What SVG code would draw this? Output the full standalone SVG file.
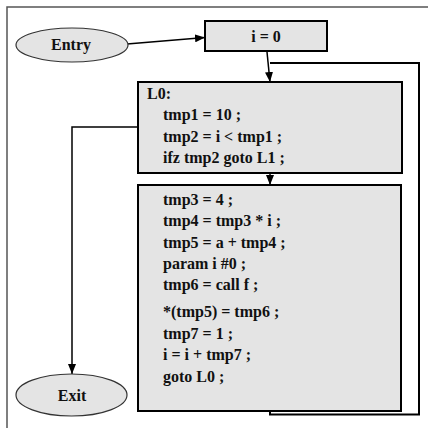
<svg xmlns="http://www.w3.org/2000/svg" width="428" height="428" viewBox="0 0 428 428">
<style>
text{font-family:'Liberation Serif','Times New Roman',serif;font-weight:bold;font-size:16px;fill:#111}
.box{fill:#e4e4e4;stroke:#000;stroke-width:2}
.ell{fill:#e4e4e4;stroke:#333;stroke-width:1.2}
.edge{fill:none;stroke:#000;stroke-width:1.5}
.loop{fill:none;stroke:#000;stroke-width:2}
.mid{text-anchor:middle}
</style>
<defs>
<marker id="ah" viewBox="0 0 10 8" refX="10" refY="4" markerWidth="10" markerHeight="8" markerUnits="userSpaceOnUse" orient="auto">
<path d="M0,0 L10,4 L0,8 z" fill="#000"/>
</marker>
</defs>
<rect width="428" height="428" fill="#fff"/>
<g id="frame"><path d="M7,428 V7 H428" fill="none" stroke="#555" stroke-width="1.5"/></g>
<g id="connectors">
<line class="edge" x1="127" y1="44" x2="205" y2="37.5" marker-end="url(#ah)"/>
<line class="edge" x1="267" y1="52" x2="270" y2="82" marker-end="url(#ah)"/>
<polyline class="loop" points="270,411 270,414.5 419,414.5 419,63 270,63"/>
<line class="edge" x1="270" y1="173" x2="270" y2="185" marker-end="url(#ah)"/>
<polyline class="edge" points="138,127 72,127 72,374" marker-end="url(#ah)"/>
</g>
<g id="entry" font-family="Liberation Serif, serif" font-weight="bold">
<ellipse class="ell" cx="72" cy="45" rx="56" ry="17"/>
<text class="mid" x="71" y="50">Entry</text>
</g>
<g id="init" font-family="Liberation Serif, serif" font-weight="bold">
<rect class="box" x="205" y="21" width="122" height="30"/>
<text class="mid" x="266" y="42">i = 0</text>
</g>
<g id="L0" font-family="Liberation Serif, serif" font-weight="bold">
<rect class="box" x="138" y="82" width="264" height="91"/>
<text x="147" y="98.5">L0:</text>
<text x="163" y="120">tmp1 = 10 ;</text>
<text x="163" y="141.5">tmp2 = i &lt; tmp1 ;</text>
<text x="163" y="163">ifz tmp2 goto L1 ;</text>
</g>
<g id="body" font-family="Liberation Serif, serif" font-weight="bold">
<rect class="box" x="138" y="185" width="263" height="226"/>
<text x="163" y="205">tmp3 = 4 ;</text>
<text x="163" y="226">tmp4 = tmp3 * i ;</text>
<text x="163" y="247.5">tmp5 = a + tmp4 ;</text>
<text x="163" y="269">param i #0 ;</text>
<text x="163" y="290">tmp6 = call f ;</text>
<text x="163" y="317">*(tmp5) = tmp6 ;</text>
<text x="163" y="338.5">tmp7 = 1 ;</text>
<text x="163" y="360">i = i + tmp7 ;</text>
<text x="163" y="381.5">goto L0 ;</text>
</g>
<g id="exit" font-family="Liberation Serif, serif" font-weight="bold">
<ellipse class="ell" cx="71.5" cy="395" rx="55.5" ry="21"/>
<text class="mid" x="72" y="401">Exit</text>
</g>
</svg>
